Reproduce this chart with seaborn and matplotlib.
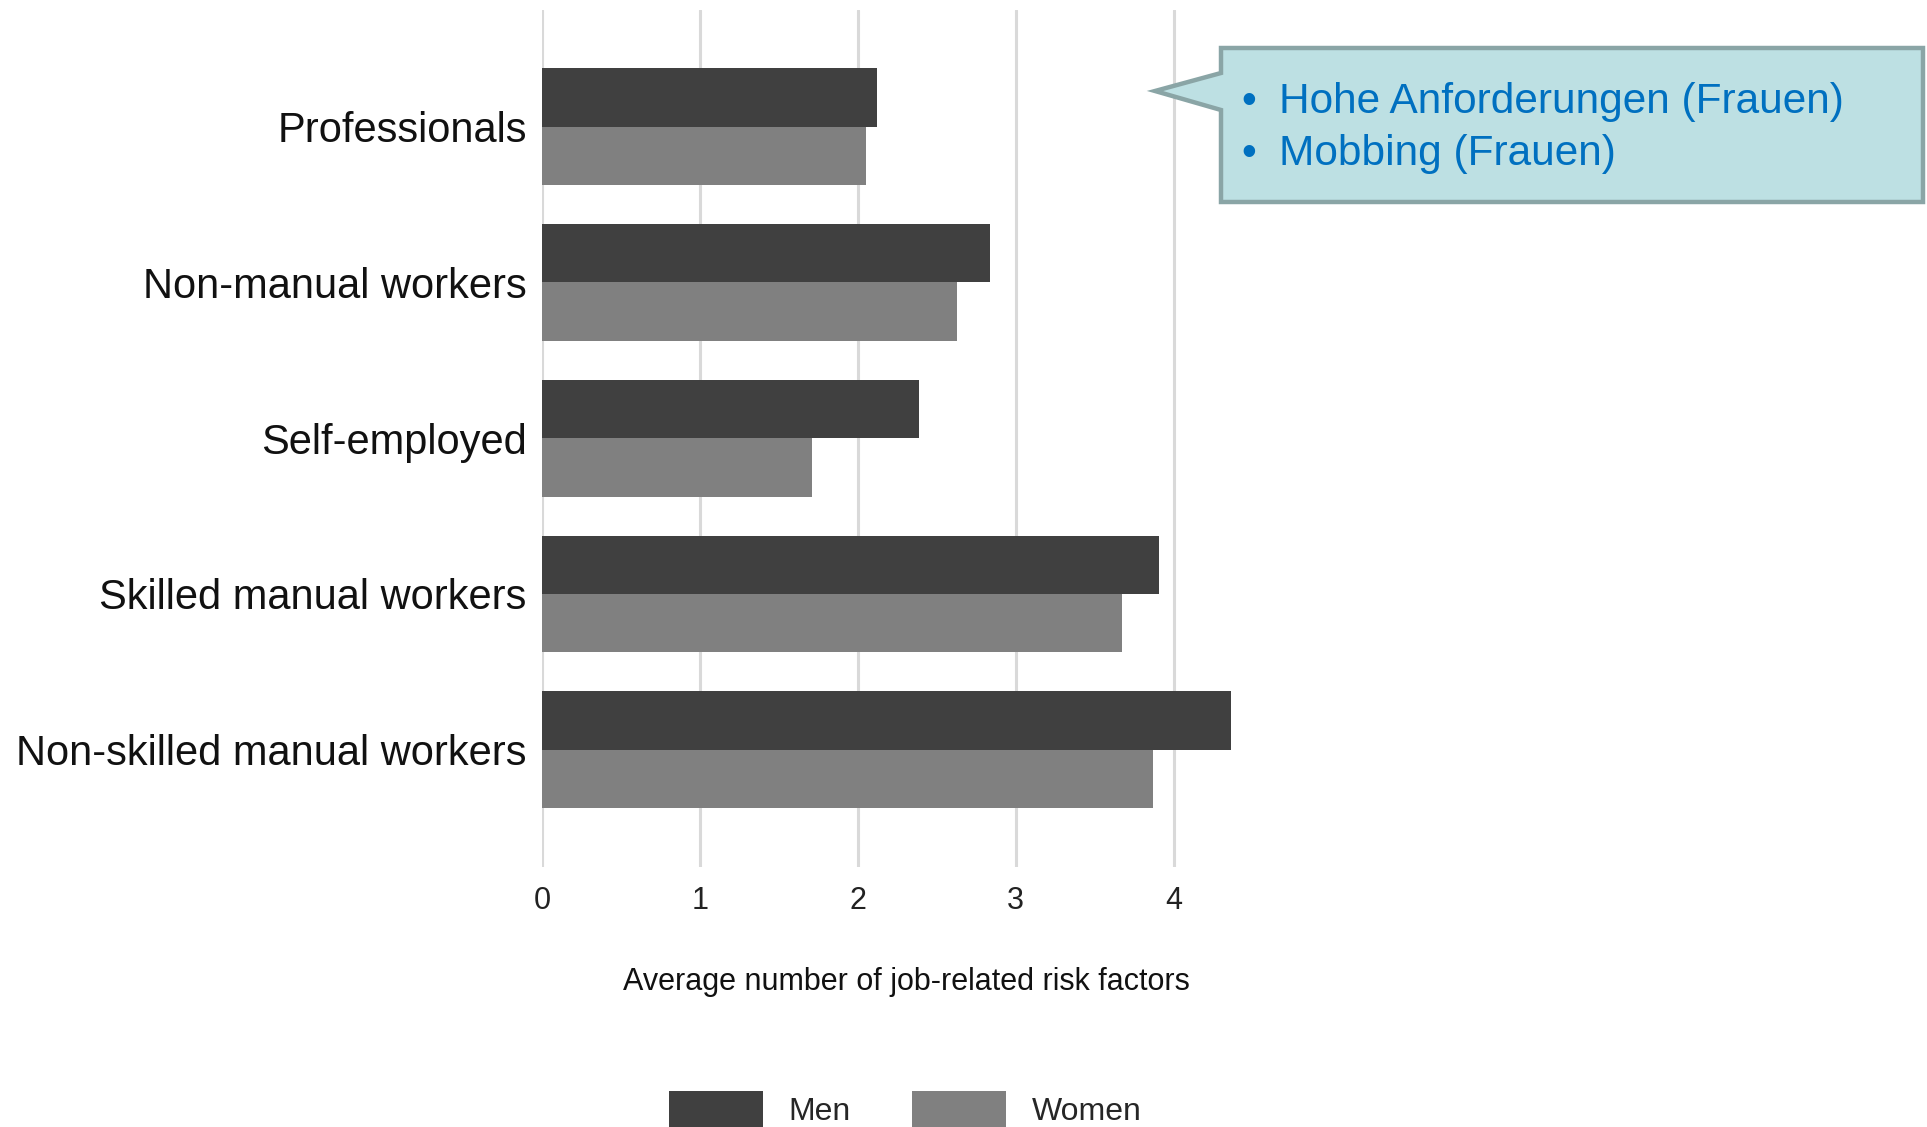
import matplotlib
matplotlib.use("Agg")
import matplotlib.pyplot as plt
from matplotlib.patches import Polygon
import seaborn as sns
import pandas as pd

categories = ["Professionals", "Non-manual workers", "Self-employed",
              "Skilled manual workers", "Non-skilled manual workers"]
men = [2.12, 2.84, 2.39, 3.91, 4.36]
women = [2.05, 2.63, 1.71, 3.67, 3.87]
series_names = ["Men", "Women"]
x_ticks = [0, 1, 2, 3, 4]
x_label = "Average number of job-related risk factors"
callout_lines = ["Hohe Anforderungen (Frauen)", "Mobbing (Frauen)"]

df = pd.DataFrame({
    "category": categories * 2,
    "value": men + women,
    "group": [series_names[0]] * len(categories) + [series_names[1]] * len(categories),
})

sns.set_theme(style="white")
plt.rcParams["font.family"] = ["Liberation Sans", "DejaVu Sans"]

W, H = 1927, 1127
fig = plt.figure(figsize=(W / 100, H / 100), dpi=100)
ax = fig.add_axes([542 / W, 1 - 866.5 / H, 728 / W, 856.7 / H])

sns.barplot(data=df, y="category", x="value", hue="group", orient="h",
            palette=["#404040", "#808080"], width=0.75, saturation=1,
            edgecolor="none", ax=ax)

ax.set_xlim(0, 4.61)
ax.set_ylim(4.75, -0.75)
ax.set_xticks(x_ticks)
ax.set_xticklabels([str(t) for t in x_ticks])
ax.grid(axis="x", color="#d9d9d9", linewidth=2.2)
ax.grid(axis="y", visible=False)
ax.set_axisbelow(True)
for s in ax.spines.values():
    s.set_visible(False)
ax.tick_params(axis="x", length=0, pad=14, labelsize=22, labelcolor="#222222")
ax.tick_params(axis="y", length=0, pad=11, labelsize=30, labelcolor="#111111")
ax.set_ylabel("")
ax.set_xlabel(x_label, fontsize=22, color="#111111")
ax.xaxis.set_label_coords(0.5, -0.117)

sns.move_legend(ax, loc="upper left", bbox_to_anchor=(669 / W, 1 - 1091 / H),
                bbox_transform=fig.transFigure, ncol=2, frameon=False, title=None,
                fontsize=23, handlelength=2.95, handleheight=1.4,
                handletextpad=0.8, columnspacing=1.9,
                borderaxespad=0, borderpad=0)

# speech-bubble callout
def fp(x, y):
    return (x / W, 1 - y / H)

pts = [fp(1221, 48), fp(1923, 48), fp(1923, 202), fp(1221, 202),
       fp(1221, 110), fp(1155, 91), fp(1221, 73)]
fig.patches.append(Polygon(pts, closed=True, transform=fig.transFigure,
                           facecolor="#bde0e3", edgecolor="#8aa5a6",
                           linewidth=3.2, joinstyle="miter", figure=fig))
for i, line in enumerate(callout_lines):
    y = 102 + 52 * i
    fig.text(1241 / W, 1 - y / H, "\u2022", fontsize=30.5, color="#0070c0",
             va="center", ha="left", family=["Liberation Sans", "DejaVu Sans"])
    fig.text(1279 / W, 1 - y / H, line, fontsize=30.5, color="#0070c0",
             va="center", ha="left", family=["Liberation Sans", "DejaVu Sans"])

fig.savefig("out.png", dpi=100)
